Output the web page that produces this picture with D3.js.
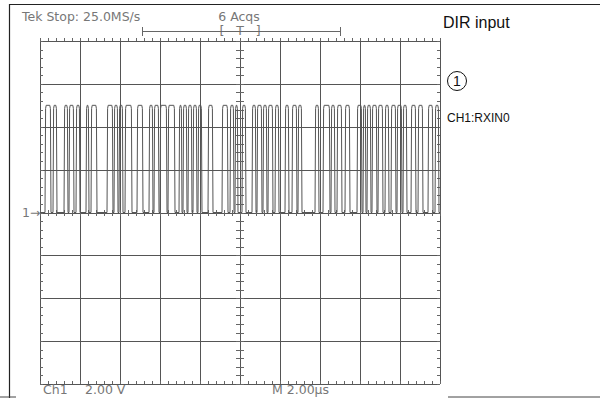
<!DOCTYPE html>
<html lang="en">
<head>
  <meta charset="UTF-8">
  <title>DIR input</title>
  <script src="https://d3js.org/d3.v7.min.js"></script>
  <style>
    body { margin: 0; background: #fff; }
    .grid { stroke: #555; stroke-width: 1; shape-rendering: crispEdges; }
    .tick { stroke: #666; stroke-width: 1; shape-rendering: crispEdges; }
    .scope { font-family: "DejaVu Sans", sans-serif; font-size: 12.5px; fill: #777; }
    .note { font-family: "Liberation Sans", Arial, sans-serif; fill: #111; }
  </style>
</head>
<body>
<svg width="600" height="398"></svg>
<script>
  // time in microseconds (2 us/div, 10 div), volts (2 V/div, 8 div)
  const timeDomain = [0, 20];
  const voltDomain = [-8, 8];
  const highLevel = 5.0;
  const lowLevel = 0.0;

  // high pulses of the S/PDIF stream: [rise, fall] in us
  const pulses = [
    [0.25, 0.55], [0.65, 0.85], [1.2, 1.4], [1.45, 1.7], [1.8, 2.0],
    [2.3, 2.45], [2.55, 2.85], [3.35, 3.65], [3.7, 3.9], [3.95, 4.15],
    [4.25, 4.6], [4.85, 5.15], [5.45, 5.65], [5.7, 5.95], [6.0, 6.35],
    [6.4, 6.75], [6.95, 7.1], [7.15, 7.35], [7.4, 7.6], [7.65, 7.85],
    [7.9, 8.1], [8.4, 8.65], [9.1, 9.4], [9.5, 9.7], [9.75, 9.9],
    [10.1, 10.3], [10.6, 10.8], [10.85, 11.1], [11.15, 11.35], [11.4, 11.65],
    [11.75, 11.95], [12.25, 12.45], [12.6, 12.85], [12.9, 13.1], [13.75, 13.95],
    [14.15, 14.5], [14.55, 14.75], [14.85, 15.1], [15.25, 15.5], [15.85, 16.1],
    [16.15, 16.3], [16.35, 16.55], [16.6, 16.85], [16.9, 17.15], [17.25, 17.45],
    [17.55, 17.8], [17.85, 18.1], [18.15, 18.35], [18.55, 18.8], [18.9, 19.15],
    [19.4, 19.65], [19.75, 19.95]
  ];

  const svg = d3.select("svg");
  const x = d3.scaleLinear().domain(timeDomain).range([40, 440]);
  const y = d3.scaleLinear().domain(voltDomain).range([384, 41]);

  // outer frame pieces
  svg.append("line").attr("x1", 9).attr("x2", 600).attr("y1", 4.5).attr("y2", 4.5)
    .attr("stroke", "#222").attr("stroke-width", 1.2);
  svg.append("line").attr("x1", 9.5).attr("x2", 9.5).attr("y1", 4).attr("y2", 398)
    .attr("stroke", "#222").attr("stroke-width", 1.2);
  svg.append("line").attr("x1", 0).attr("x2", 16).attr("y1", 397).attr("y2", 397)
    .attr("stroke", "#444");
  svg.append("line").attr("x1", 448).attr("x2", 600).attr("y1", 397).attr("y2", 397)
    .attr("stroke", "#444");

  // graticule
  const g = svg.append("g");
  const xDivs = d3.range(timeDomain[0], timeDomain[1] + 0.001, 2);
  const yDivs = d3.range(voltDomain[0], voltDomain[1] + 0.001, 2);

  g.selectAll(".vline").data(xDivs).enter().append("line")
    .attr("class", "grid")
    .attr("x1", d => Math.round(x(d)) + 0.5).attr("x2", d => Math.round(x(d)) + 0.5)
    .attr("y1", y(voltDomain[1])).attr("y2", y(voltDomain[0]));
  g.selectAll(".hline").data(yDivs).enter().append("line")
    .attr("class", "grid")
    .attr("x1", x(timeDomain[0])).attr("x2", x(timeDomain[1]))
    .attr("y1", d => Math.round(y(d)) + 0.5).attr("y2", d => Math.round(y(d)) + 0.5);

  // minor ticks, 5 per division
  const xMinor = d3.range(timeDomain[0], timeDomain[1] + 0.001, 0.4);
  const yMinor = d3.range(voltDomain[0], voltDomain[1] + 0.001, 0.4);
  const cx = x(10), cy = y(0);

  xMinor.forEach(t => {
    const px = Math.round(x(t)) + 0.5;
    g.append("line").attr("class", "tick").attr("x1", px).attr("x2", px).attr("y1", cy - 3).attr("y2", cy + 3);
    g.append("line").attr("class", "tick").attr("x1", px).attr("x2", px).attr("y1", y(8) - 3).attr("y2", y(8));
    g.append("line").attr("class", "tick").attr("x1", px).attr("x2", px).attr("y1", y(-8) - 3).attr("y2", y(-8));
  });
  yMinor.forEach(v => {
    const py = Math.round(y(v)) + 0.5;
    g.append("line").attr("class", "tick").attr("x1", cx - 4).attr("x2", cx + 4).attr("y1", py).attr("y2", py);
    g.append("line").attr("class", "tick").attr("x1", x(0)).attr("x2", x(0) + 3).attr("y1", py).attr("y2", py);
    g.append("line").attr("class", "tick").attr("x1", x(20) - 3).attr("x2", x(20)).attr("y1", py).attr("y2", py);
  });

  // waveform
  const edge = 0.03;
  const pts = [[0, lowLevel]];
  pulses.forEach(([r, f]) => {
    pts.push([r, lowLevel], [r + edge, highLevel - 0.15], [r + edge * 2, highLevel],
             [f - edge * 2, highLevel], [f - edge, highLevel - 0.15], [f, lowLevel]);
  });
  pts.push([timeDomain[1], lowLevel]);

  svg.append("path")
    .datum(pts)
    .attr("fill", "none")
    .attr("stroke", "#555")
    .attr("stroke-width", 1)
    .attr("d", d3.line().x(d => x(d[0])).y(d => y(d[1])));

  // scope readouts
  svg.append("text").attr("class", "scope").attr("x", 22).attr("y", 21).text("Tek Stop: 25.0MS/s");
  svg.append("text").attr("class", "scope").attr("x", 239).attr("y", 21).attr("text-anchor", "middle").text("6 Acqs");
  svg.append("text").attr("class", "scope").attr("x", 240).attr("y", 35).attr("text-anchor", "middle")
    .attr("xml:space", "preserve").style("white-space", "pre").text("[   T   ]");
  svg.append("line").attr("class", "tick").attr("x1", 142).attr("x2", 340).attr("y1", 31.5).attr("y2", 31.5);
  svg.append("line").attr("class", "tick").attr("x1", 142.5).attr("x2", 142.5).attr("y1", 27).attr("y2", 36);
  svg.append("line").attr("class", "tick").attr("x1", 340.5).attr("x2", 340.5).attr("y1", 27).attr("y2", 36);
  svg.append("text").attr("class", "scope").attr("x", 22).attr("y", y(0) + 4).attr("font-size", 10).text("1→");
  svg.append("text").attr("class", "scope").attr("x", 43).attr("y", 394).text("Ch1");
  svg.append("text").attr("class", "scope").attr("x", 85).attr("y", 394).text("2.00 V");
  svg.append("text").attr("class", "scope").attr("x", 272).attr("y", 394).text("M 2.00µs");

  // annotations
  svg.append("text").attr("class", "note").attr("x", 443).attr("y", 28).attr("font-size", 16).text("DIR input");
  svg.append("circle").attr("cx", 457).attr("cy", 81).attr("r", 9.5)
    .attr("fill", "none").attr("stroke", "#111").attr("stroke-width", 1);
  svg.append("text").attr("class", "note").attr("x", 457).attr("y", 86).attr("text-anchor", "middle").attr("font-size", 14).text("1");
  svg.append("text").attr("class", "note").attr("x", 447).attr("y", 122).attr("font-size", 12).text("CH1:RXIN0");
</script>
</body>
</html>
